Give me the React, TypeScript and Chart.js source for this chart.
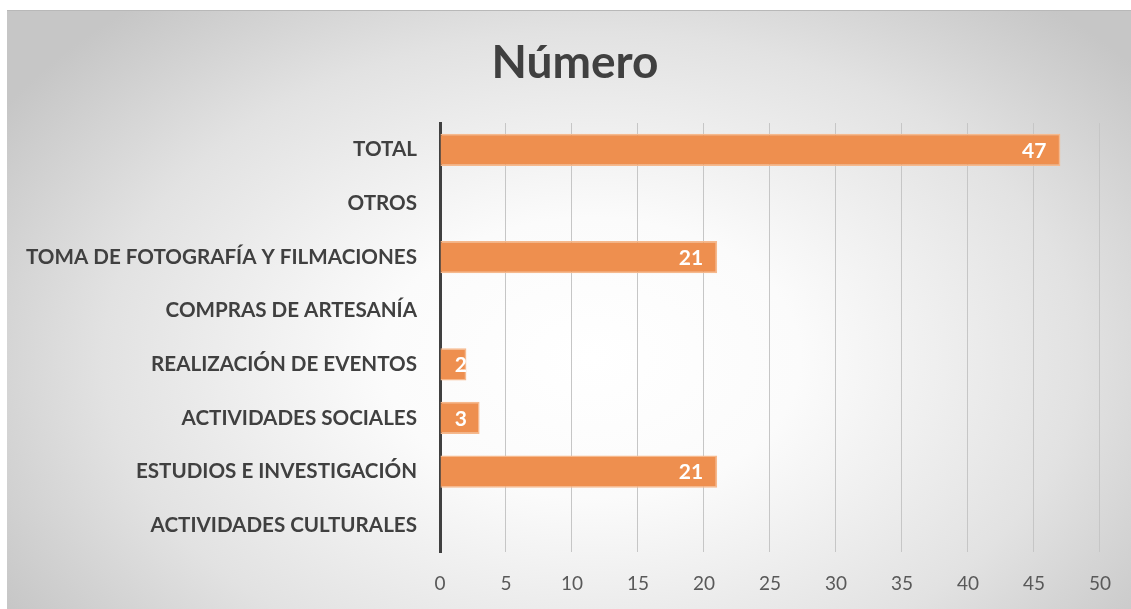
import React, { useEffect, useRef } from "react";
import { Chart, registerables } from "chart.js";

Chart.register(...registerables);

const categories = [
  "TOTAL",
  "OTROS",
  "TOMA DE FOTOGRAFÍA Y FILMACIONES",
  "COMPRAS DE ARTESANÍA",
  "REALIZACIÓN DE EVENTOS",
  "ACTIVIDADES SOCIALES",
  "ESTUDIOS E INVESTIGACIÓN",
  "ACTIVIDADES CULTURALES",
];
const values: (number | null)[] = [47, null, 21, null, 2, 3, 21, null];
const xTicks = [0, 5, 10, 15, 20, 25, 30, 35, 40, 45, 50];
const title = "Número";

const FONT = "Lato, 'Open Sans', sans-serif";

const valueLabels = {
  id: "valueLabels",
  afterDatasetsDraw(chart: any) {
    const ctx = chart.ctx;
    const meta = chart.getDatasetMeta(0);
    const xScale = chart.scales.x;
    const base = xScale.getPixelForValue(0);
    meta.data.forEach((bar: any, i: number) => {
      const v = values[i];
      if (v === null || v === undefined) return;
      const end = bar.x;
      const right = Math.max(end - 14, base + 27);
      ctx.save();
      ctx.beginPath();
      ctx.rect(base, bar.y - bar.height / 2, end - base, bar.height);
      ctx.clip();
      ctx.fillStyle = "#ffffff";
      ctx.font = `bold 21px ${FONT}`;
      ctx.textAlign = "right";
      ctx.textBaseline = "middle";
      ctx.fillText(String(v), right, bar.y + 1);
      ctx.restore();
    });
  },
};

const titlePlugin = {
  id: "customTitle",
  afterDraw(chart: any) {
    const ctx = chart.ctx;
    ctx.save();
    ctx.fillStyle = "#404040";
    ctx.font = `bold 46px ${FONT}`;
    ctx.textAlign = "center";
    ctx.textBaseline = "middle";
    ctx.fillText(title, 568, 52);
    ctx.restore();
  },
};

export default function App() {
  const ref = useRef<HTMLCanvasElement | null>(null);
  useEffect(() => {
    if (!ref.current) return;
    const chart = new Chart(ref.current, {
      type: "bar",
      data: {
        labels: categories,
        datasets: [
          {
            data: values as any,
            backgroundColor: "#EE8F4F",
            borderColor: "#F6B98D",
            borderWidth: 1.5,
            borderSkipped: "start",
            barPercentage: 0.6,
            categoryPercentage: 1,
          },
        ],
      },
      plugins: [valueLabels, titlePlugin],
      options: {
        indexAxis: "y",
        animation: false,
        responsive: false,
        maintainAspectRatio: false,
        layout: { padding: { left: 0, right: 30, top: 112, bottom: 0 } },
        plugins: {
          legend: { display: false },
          tooltip: { enabled: false },
          title: { display: false },
        },
        scales: {
          x: {
            type: "linear",
            min: 0,
            max: 50,
            afterBuildTicks(scale: any) {
              scale.ticks = xTicks.map((v) => ({ value: v }));
            },
            afterFit(scale: any) {
              scale.height = 57;
            },
            grid: {
              color: "#c6c6c6",
              lineWidth: 1,
              drawTicks: false,
            },
            border: { display: false },
            ticks: {
              color: "#595959",
              font: { family: FONT, size: 19 },
              padding: 20,
            },
          },
          y: {
            afterFit(scale: any) {
              scale.width = 433;
            },
            grid: { display: false, drawTicks: false },
            border: { display: true, color: "#404040", width: 3 },
            ticks: {
              color: "#404040",
              font: { family: FONT, size: 20.6, weight: "bold" },
              padding: 23,
            },
          },
        },
      },
    } as any);
    return () => chart.destroy();
  }, []);

  return (
    <div
      style={{
        position: "fixed",
        left: 0,
        top: 0,
        width: 1131,
        height: 609,
        background: "#ffffff",
        overflow: "hidden",
      }}
    >
      <div
        style={{
          position: "absolute",
          left: 7,
          top: 10,
          width: 1124,
          height: 599,
          background:
            "radial-gradient(ellipse 62% 78% at 52% 58%, #ffffff 0%, #fbfbfb 30%, #e2e2e2 70%, #c6c6c6 100%)",
          borderTop: "1px solid #b8b8b8",
          boxSizing: "border-box",
        }}
      >
        <canvas ref={ref} width={1124} height={598} style={{ display: "block" }} />
      </div>
    </div>
  );
}
